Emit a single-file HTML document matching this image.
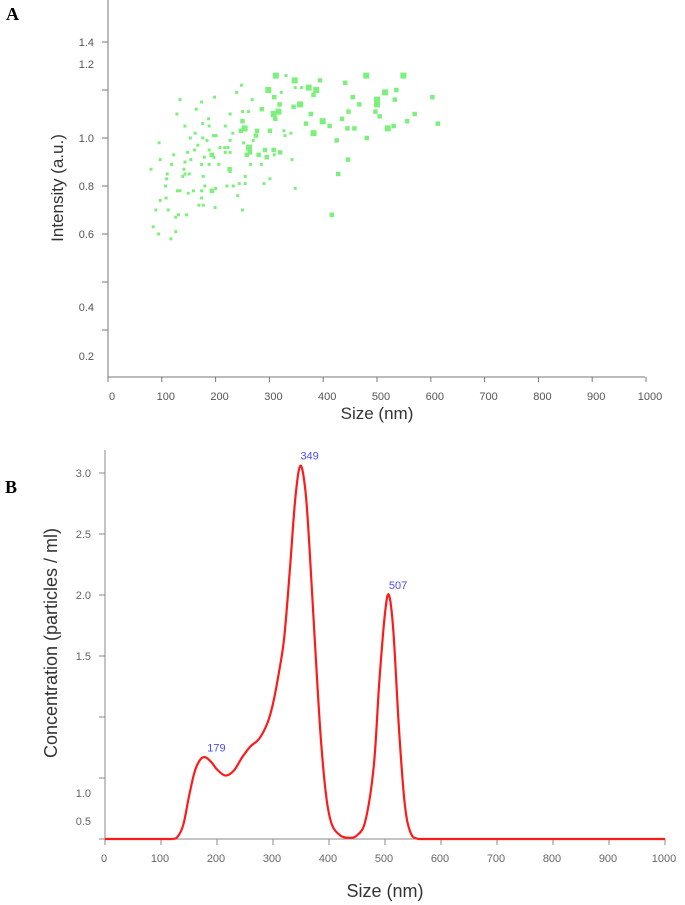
<!DOCTYPE html>
<html><head><meta charset="utf-8"><style>
html,body{margin:0;padding:0;background:#fff;}
svg{display:block;font-family:"Liberation Sans",Arial,sans-serif;}
</style></head><body>
<svg id="fig" width="685" height="905" viewBox="0 0 685 905">
<text x="6" y="20" font-family="Liberation Serif,serif" font-weight="bold" font-size="18">A</text>
<text x="5" y="493" font-family="Liberation Serif,serif" font-weight="bold" font-size="18">B</text>
<g id="pa"></g>
<g id="pb"></g>
</svg>
<script>
// Panel A data
const aSize=[312,347,394,480,549,298,373,387,382,515,500,500,455,536,533,603,441,309,319,357,345,317,308,311,286,377,399,382,368,435,447,467,497,505,520,531,556,570,613,445,458,481,412,425,446,428,416,348,342,327,329,340,301,277,275,254,247,250,261,250,268,239,248,322,348,360,331,262,258,264,280,295,292,308,320,309,285,265,255,244,255,290,301,270,252,232,227,217,223,227,218,208,197,188,193,206,226,227,233,221,241,250,199,200,193,196,201,218,227,198,187,188,176,176,184,167,179,174,188,177,180,174,174,169,177,164,174,162,161,153,148,143,154,159,149,151,143,141,146,139,129,134,131,126,134,128,143,122,118,110,109,107,97,95,97,108,112,89,84,94,117,126,80];
const aIntensity=[1.26,1.24,1.24,1.26,1.26,1.20,1.21,1.20,1.18,1.19,1.16,1.14,1.17,1.20,1.16,1.17,1.23,1.17,1.14,1.14,1.13,1.11,1.10,1.08,1.12,1.10,1.07,1.02,1.06,1.08,1.11,1.14,1.11,1.09,1.04,1.05,1.07,1.10,1.06,1.04,1.04,1.00,1.05,0.99,0.91,0.85,0.68,0.79,0.91,1.03,1.01,1.02,1.03,1.03,1.01,1.04,1.03,1.07,1.11,1.11,1.16,1.19,1.22,1.19,1.21,1.21,1.26,0.96,0.93,0.94,0.93,0.92,0.95,0.95,0.94,0.93,0.89,0.89,0.84,0.81,0.81,0.81,0.83,0.99,0.98,1.02,0.99,0.96,0.96,0.94,0.94,0.96,0.92,0.95,0.93,0.89,0.87,0.86,0.80,0.80,0.76,0.70,0.71,0.79,0.78,1.01,1.01,1.05,1.10,1.17,1.08,1.05,1.06,1.00,0.99,0.97,0.92,0.89,0.89,0.84,0.80,0.78,0.75,0.72,0.72,1.12,1.15,1.02,0.95,1.00,0.94,0.90,0.91,0.78,0.77,0.85,0.85,0.87,0.68,0.84,0.78,0.78,0.68,0.67,1.16,1.10,1.05,0.93,0.89,0.85,0.83,0.80,0.91,0.98,0.74,0.75,0.70,0.70,0.63,0.60,0.58,0.61,0.87];
const aCount=[3,3,2,3,3,3,3,3,2,3,3,3,2,2,2,2,2,2,2,3,2,3,3,2,2,2,3,3,2,2,2,2,2,2,3,2,2,2,2,2,2,2,2,2,2,2,2,1,1,1,1,1,2,2,2,3,2,2,1,1,1,1,1,1,1,1,1,3,2,2,2,2,2,2,2,1,1,1,1,1,1,1,1,1,1,1,1,1,1,1,1,1,1,1,2,1,2,1,1,1,1,1,1,1,2,1,1,1,1,1,1,1,1,1,1,1,1,1,1,1,1,1,1,1,1,1,1,1,1,1,1,1,1,1,1,1,1,1,1,1,1,1,1,1,1,1,1,1,1,1,1,1,1,1,1,1,1,1,1,1,1,1,1];
const aXTicks=[0,100,200,300,400,500,600,700,800,900,1000];
const aYTickVals=[1.4,1.2,1.0,0.8,0.6,0.4,0.2];
// Panel B data
const bSize=[0,100,120,130,140,150,160,170,179,190,200,215,230,245,260,275,290,300,310,320,330,340,349,358,365,375,385,395,405,420,435,450,465,480,490,500,507,515,525,535,545,560,600,700,800,900,1000];
const bConc=[0,0,0,0.02,0.12,0.35,0.55,0.65,0.67,0.63,0.57,0.52,0.56,0.67,0.76,0.82,0.95,1.11,1.35,1.65,2.2,2.8,3.06,2.85,2.4,1.6,0.85,0.35,0.12,0.03,0.01,0.03,0.15,0.6,1.3,1.85,2.0,1.7,0.9,0.3,0.06,0,0,0,0,0,0];
const bPeaks=[179,349,507];
const bPeakVals=[0.67,3.06,2.0];
const bXTicks=[0,100,200,300,400,500,600,700,800,900,1000];
const bYTicks=[3.0,2.5,2.0,1.5,1.0,0.5,0];
const bYLabels=["3.0","2.5","2.0","1.5","","",""];

const NS="http://www.w3.org/2000/svg";
function mk(p,t,a,txt){const e=document.createElementNS(NS,t);for(const k in a)e.setAttribute(k,a[k]);if(txt!==undefined)e.textContent=txt;p.appendChild(e);return e;}

// ---- Panel A
const pa=document.getElementById('pa');
const ax=v=>108+v*0.538, ay=v=>138-(v-1)*240;
let e;
e=mk(pa,'line',{x1:108,y1:0,x2:108,y2:377,stroke:'#777','stroke-width':1});


e=mk(pa,'line',{x1:108,y1:377,x2:645,y2:377,stroke:'#777','stroke-width':1});


aXTicks.forEach(t=>{
  mk(pa,'line',{x1:ax(t),y1:377,x2:ax(t),y2:382,stroke:'#777'});
  e=mk(pa,'text',{x:ax(t)+4,y:400,'font-size':11,fill:'#555','text-anchor':'middle'},String(t));
  
  
});
[42,90,138,186,234,282,330].forEach(y=>mk(pa,'line',{x1:102,y1:y,x2:108,y2:y,stroke:'#777'}));
const aLabelY=[42,64,138,186,234,307,356];
aYTickVals.forEach((v,i)=>{
  e=mk(pa,'text',{x:94,y:aLabelY[i]+4,'font-size':11,fill:'#555','text-anchor':'end'},v.toFixed(1));
  
  
});
aSize.forEach((s,i)=>{
  const w=[0,3,4.5,6][aCount[i]];
  e=mk(pa,'rect',{x:ax(s)-w/2,y:ay(aIntensity[i])-w/2,width:w,height:w,fill:'#7cf07c'});
  
  
});
e=mk(pa,'text',{x:377,y:419,'font-size':17,fill:'#333','text-anchor':'middle'},'Size (nm)');


e=mk(pa,'text',{x:0,y:0,'font-size':17,fill:'#333','text-anchor':'middle',transform:'translate(63,188) rotate(-90)'},'Intensity (a.u.)');



// ---- Panel B
const pb=document.getElementById('pb');
const bx=v=>105+v*0.56, by=v=>839-v*122;
e=mk(pb,'line',{x1:105,y1:450,x2:105,y2:839,stroke:'#888'});


e=mk(pb,'line',{x1:105,y1:839,x2:665,y2:839,stroke:'#888'});


bXTicks.forEach(t=>{
  mk(pb,'line',{x1:bx(t),y1:839,x2:bx(t),y2:845,stroke:'#888'});
  e=mk(pb,'text',{x:bx(t)-1,y:862,'font-size':11,fill:'#666','text-anchor':'middle'},String(t));
  
  
});
bYTicks.forEach((v,i)=>{
  mk(pb,'line',{x1:99,y1:by(v),x2:105,y2:by(v),stroke:'#888'});
  if(bYLabels[i]){e=mk(pb,'text',{x:91,y:by(v)+4,'font-size':11,fill:'#666','text-anchor':'end'},bYLabels[i]);
  
  }
});
[["1.0",797],["0.5",825]].forEach(l=>{e=mk(pb,'text',{x:91,y:l[1],'font-size':11,fill:'#666','text-anchor':'end'},l[0]);
  
  });
// smooth curve (catmull-rom)
const P=bSize.map((s,i)=>[bx(s),by(bConc[i])]);
let d='M'+P[0][0]+','+P[0][1];
for(let i=0;i<P.length-1;i++){
  const p0=P[Math.max(0,i-1)],p1=P[i],p2=P[i+1],p3=P[Math.min(P.length-1,i+2)];
  let c1=[p1[0]+(p2[0]-p0[0])/6,p1[1]+(p2[1]-p0[1])/6],c2=[p2[0]-(p3[0]-p1[0])/6,p2[1]-(p3[1]-p1[1])/6];
  c1[0]=Math.min(Math.max(c1[0],p1[0]),p2[0]);c2[0]=Math.min(Math.max(c2[0],p1[0]),p2[0]);
  d+=`C${c1[0]},${Math.min(839,c1[1])} ${c2[0]},${Math.min(839,c2[1])} ${p2[0]},${p2[1]}`;
}
e=mk(pb,'path',{d:d,fill:'none',stroke:'#ff1a1a','stroke-width':2.2});


bPeaks.forEach((p,i)=>{
  e=mk(pb,'text',{x:bx(p)+(i==0?2:0),y:by(bPeakVals[i])-6,'font-size':11,fill:'#4b4bff'},String(p));
  
  
});
e=mk(pb,'text',{x:385,y:897,'font-size':18,fill:'#333','text-anchor':'middle'},'Size (nm)');


e=mk(pb,'text',{x:0,y:0,'font-size':18,fill:'#333','text-anchor':'middle',transform:'translate(57,643) rotate(-90)'},'Concentration (particles / ml)');


</script>
</body></html>
